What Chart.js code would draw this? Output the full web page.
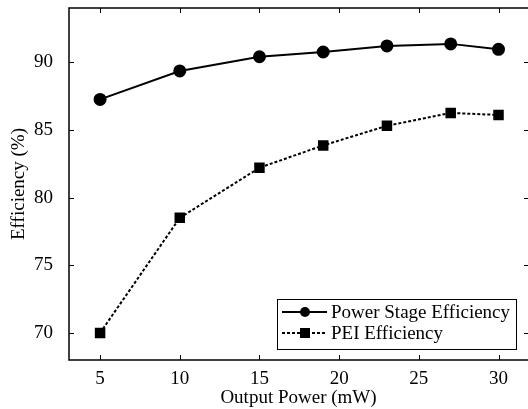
<!DOCTYPE html>
<html>
<head>
<meta charset="utf-8">
<script src="https://cdn.jsdelivr.net/npm/chart.js@4/dist/chart.umd.min.js"></script>
<style>
  html, body { margin: 0; padding: 0; background: #fff; }
  #wrap { width: 528px; height: 409px; }
</style>
</head>
<body>
<div id="wrap"><canvas id="chart" width="528" height="409"></canvas></div>
<script>
var outputPower = [5, 10, 15, 19, 23, 27, 30];
var powerStageEff = [87.25, 89.35, 90.4, 90.75, 91.2, 91.35, 90.95];
var peiEff = [70.0, 78.5, 82.2, 83.85, 85.3, 86.25, 86.1];
var xTicks = [5, 10, 15, 20, 25, 30];
var yTicks = [70, 75, 80, 85, 90];

var font = "Liberation Serif";

function pts(xs, ys) {
  return xs.map(function (x, i) { return { x: x, y: ys[i] }; });
}

// frame, inward ticks on all four sides, and the boxed legend
var framePlugin = {
  id: "frame",
  afterDraw: function (chart) {
    var c = chart.ctx, a = chart.chartArea;
    var xs = chart.scales.x, ys = chart.scales.y;
    c.save();
    c.strokeStyle = "#000";
    c.lineWidth = 1.5;
    c.strokeRect(a.left, a.top, a.right - a.left + 2, a.bottom - a.top);
    c.lineWidth = 1;
    c.beginPath();
    xTicks.forEach(function (v) {
      var px = Math.round(xs.getPixelForValue(v)) + 0.5;
      c.moveTo(px, a.bottom); c.lineTo(px, a.bottom - 5);
      c.moveTo(px, a.top); c.lineTo(px, a.top + 5);
    });
    yTicks.forEach(function (v) {
      var py = Math.round(ys.getPixelForValue(v)) + 0.5;
      c.moveTo(a.left, py); c.lineTo(a.left + 5, py);
      c.moveTo(a.right + 1, py); c.lineTo(a.right - 4, py);
    });
    c.stroke();

    // legend box
    var bx = 277, by = 299, bw = 239, bh = 50;
    c.fillStyle = "#fff";
    c.fillRect(bx, by, bw, bh);
    c.lineWidth = 1;
    c.strokeRect(bx + 0.5, by + 0.5, bw, bh);
    var rows = [
      { label: chart.data.datasets[0].label, dash: [], shape: "circle", y: by + 13 },
      { label: chart.data.datasets[1].label, dash: [3, 2], shape: "square", y: by + 34 }
    ];
    rows.forEach(function (r) {
      c.strokeStyle = "#000";
      c.lineWidth = 2;
      c.setLineDash(r.dash);
      c.beginPath();
      c.moveTo(bx + 5, r.y); c.lineTo(bx + 50, r.y);
      c.stroke();
      c.setLineDash([]);
      c.fillStyle = "#000";
      if (r.shape === "circle") {
        c.beginPath(); c.arc(bx + 28, r.y, 5, 0, Math.PI * 2); c.fill();
      } else {
        c.fillRect(bx + 23, r.y - 5, 10, 10);
      }
      c.font = "19px '" + font + "'";
      c.textBaseline = "middle";
      c.textAlign = "left";
      c.fillText(r.label, bx + 54, r.y + 1);
    });
    c.restore();
  }
};

new Chart(document.getElementById("chart"), {
  type: "line",
  data: {
    datasets: [
      {
        label: "Power Stage Efficiency",
        data: pts(outputPower, powerStageEff),
        borderColor: "#000",
        backgroundColor: "#000",
        borderWidth: 2,
        pointStyle: "circle",
        pointRadius: 5.5,
        pointHoverRadius: 5.5,
        tension: 0
      },
      {
        label: "PEI Efficiency",
        data: pts(outputPower, peiEff),
        borderColor: "#000",
        backgroundColor: "#000",
        borderWidth: 2,
        borderDash: [3, 2],
        pointStyle: "rect",
        pointRadius: 6,
        pointHoverRadius: 6,
        tension: 0
      }
    ]
  },
  options: {
    responsive: false,
    animation: false,
    layout: { autoPadding: false, padding: { top: 8, right: 0, left: 0, bottom: 0 } },
    plugins: { legend: { display: false }, tooltip: { enabled: false } },
    scales: {
      x: {
        type: "linear",
        min: 3.05,
        max: 31.85,
        grid: { display: false },
        border: { display: false },
        afterBuildTicks: function (s) { s.ticks = xTicks.map(function (v) { return { value: v }; }); },
        ticks: { color: "#000", font: { family: font, size: 19 }, padding: 0, maxRotation: 0 },
        title: { display: true, text: "Output Power (mW)", color: "#000", font: { family: font, size: 19 }, padding: { top: 0, bottom: 0 } },
        afterFit: function (s) { s.height = 49; s.paddingLeft = 0; s.paddingRight = 0; }
      },
      y: {
        min: 68,
        max: 94,
        grid: { display: false },
        border: { display: false },
        afterBuildTicks: function (s) { s.ticks = yTicks.map(function (v) { return { value: v }; }); },
        ticks: { color: "#000", font: { family: font, size: 19 }, padding: 8 },
        title: { display: true, text: "Efficiency (%)", color: "#000", font: { family: font, size: 19 }, padding: { top: 8, bottom: 0 } },
        afterFit: function (s) { s.width = 69; s.paddingTop = 0; s.paddingBottom = 0; }
      }
    }
  },
  plugins: [framePlugin]
});
</script>
</body>
</html>
